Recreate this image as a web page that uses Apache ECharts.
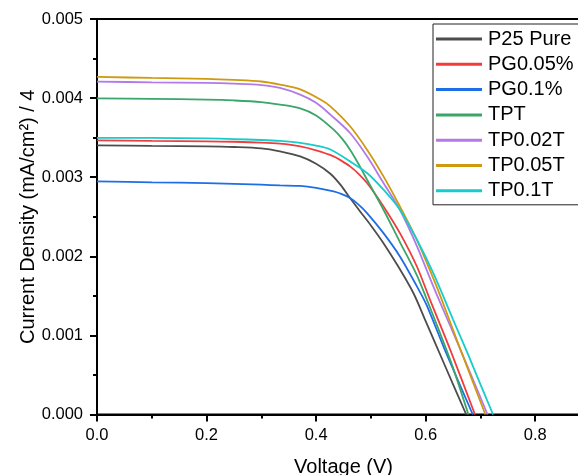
<!DOCTYPE html>
<html>
<head>
<meta charset="utf-8">
<script src="https://cdn.jsdelivr.net/npm/echarts@6/dist/echarts.min.js"></script>
<style>
html,body{margin:0;padding:0;background:#fff;}
#chart{width:578px;height:475px;}
</style>
</head>
<body>
<div id="chart"></div>
<script>
const seriesNames = ['P25 Pure', 'PG0.05%', 'PG0.1%', 'TPT', 'TP0.02T', 'TP0.05T', 'TP0.1T'];
const seriesColors = ['#4d4d4d', '#f23c3c', '#1e6ee6', '#3aa66a', '#b27ae8', '#cf9a10', '#17cccc'];

const v_P25 = [0, 0.1, 0.2, 0.25, 0.3, 0.334, 0.371, 0.4, 0.426, 0.445, 0.462, 0.48, 0.5, 0.523, 0.55, 0.578, 0.6, 0.617, 0.65, 0.674];
const j_P25 = [0.003403, 0.003396, 0.003390, 0.003382, 0.003365, 0.003327, 0.003263, 0.003170, 0.003044, 0.002900, 0.002736, 0.002570, 0.002390, 0.002166, 0.001870, 0.001530, 0.001180, 0.000910, 0.000380, 0];

const v_PG005 = [0, 0.1, 0.2, 0.25, 0.3, 0.334, 0.371, 0.4, 0.432, 0.447, 0.462, 0.478, 0.493, 0.508, 0.523, 0.553, 0.584, 0.608, 0.645, 0.690];
const j_PG005 = [0.003466, 0.003458, 0.003453, 0.003448, 0.003438, 0.003424, 0.003390, 0.003340, 0.003264, 0.003205, 0.003137, 0.003040, 0.002926, 0.002785, 0.002631, 0.002293, 0.001871, 0.001449, 0.000816, 0];

const v_PG01 = [0, 0.1, 0.2, 0.3, 0.334, 0.371, 0.4, 0.432, 0.447, 0.462, 0.478, 0.493, 0.523, 0.553, 0.584, 0.602, 0.636, 0.686];
const j_PG01 = [0.002947, 0.002935, 0.002926, 0.002905, 0.002896, 0.002890, 0.002865, 0.002820, 0.002785, 0.002736, 0.002650, 0.002546, 0.002293, 0.001998, 0.001620, 0.001380, 0.000800, 0];

const v_TPT = [0, 0.1, 0.2, 0.25, 0.3, 0.334, 0.371, 0.4, 0.432, 0.447, 0.462, 0.478, 0.493, 0.523, 0.553, 0.584, 0.6, 0.625, 0.65, 0.678];
const j_TPT = [0.003997, 0.003990, 0.003981, 0.003970, 0.003950, 0.003918, 0.003870, 0.003780, 0.003601, 0.003490, 0.003348, 0.003160, 0.002968, 0.002589, 0.002180, 0.001760, 0.001490, 0.001050, 0.000590, 0];

const v_TP002 = [0, 0.1, 0.2, 0.25, 0.3, 0.334, 0.371, 0.4, 0.426, 0.462, 0.493, 0.523, 0.553, 0.584, 0.608, 0.623, 0.666, 0.713];
const j_TP002 = [0.004209, 0.004200, 0.004192, 0.004182, 0.004165, 0.004129, 0.004044, 0.003940, 0.003791, 0.003559, 0.003264, 0.002926, 0.002589, 0.002130, 0.001720, 0.001470, 0.000780, 0];

const v_TP005 = [0, 0.1, 0.2, 0.25, 0.3, 0.334, 0.371, 0.407, 0.426, 0.462, 0.493, 0.523, 0.553, 0.584, 0.614, 0.630, 0.663, 0.709];
const j_TP005 = [0.004268, 0.004255, 0.004243, 0.004230, 0.004210, 0.004171, 0.004110, 0.003985, 0.003896, 0.003644, 0.003348, 0.003011, 0.002631, 0.002209, 0.001720, 0.001440, 0.000830, 0];

const v_TP01 = [0, 0.1, 0.2, 0.25, 0.3, 0.334, 0.371, 0.4, 0.426, 0.462, 0.493, 0.523, 0.553, 0.584, 0.614, 0.65, 0.678, 0.70, 0.723];
const j_TP01 = [0.003496, 0.003496, 0.003490, 0.003482, 0.003470, 0.003458, 0.003435, 0.003400, 0.003350, 0.003200, 0.003053, 0.002842, 0.002589, 0.002209, 0.001787, 0.001200, 0.000750, 0.000380, 0];

const xTicks = { min: 0, max: 0.9, interval: 0.2 };
const yTicks = { min: 0, max: 0.005, interval: 0.001 };

const allV = [v_P25, v_PG005, v_PG01, v_TPT, v_TP002, v_TP005, v_TP01];
const allJ = [j_P25, j_PG005, j_PG01, j_TPT, j_TP002, j_TP005, j_TP01];

const FONT = '"Liberation Sans", Arial, sans-serif';

const series = seriesNames.map((name, i) => ({
  name: name,
  type: 'line',
  data: allV[i].map((v, k) => [v, allJ[i][k]]),
  showSymbol: false,
  symbol: 'none',
  smooth: 0.3,
  lineStyle: { width: 1.8, color: seriesColors[i] },
  itemStyle: { color: seriesColors[i] },
  animation: false
}));

const chart = echarts.init(document.getElementById('chart'), null, { renderer: 'canvas' });
chart.setOption({
  animation: false,
  backgroundColor: '#fff',
  grid: {
    left: 97, top: 19, width: 493, height: 395.5,
    outerBoundsMode: 'none',
    containLabel: false,
    show: true, borderColor: '#000', borderWidth: 2, backgroundColor: 'transparent'
  },
  legend: {
    orient: 'vertical',
    left: 433, top: 24,
    padding: [5, 60, 4, 3],
    itemWidth: 46, itemHeight: 3, itemGap: 5.3,
    icon: 'rect',
    borderColor: '#222', borderWidth: 1,
    selectedMode: false,
    textStyle: { fontFamily: FONT, fontSize: 20, color: '#000', lineHeight: 20, padding: [0, 0, 0, 1] },
    data: seriesNames
  },
  xAxis: {
    type: 'value',
    min: xTicks.min, max: xTicks.max, interval: xTicks.interval,
    name: 'Voltage (V)',
    nameLocation: 'middle', nameGap: 43,
    nameMoveOverlap: false,
    nameTextStyle: { fontFamily: FONT, fontSize: 20, color: '#000' },
    axisLine: { show: true, onZero: false, lineStyle: { color: '#000', width: 2 } },
    axisTick: { show: true, inside: false, length: 7, lineStyle: { color: '#000', width: 2 } },
    minorTick: { show: true, splitNumber: 2, length: 4, lineStyle: { color: '#000', width: 2 } },
    splitLine: { show: false },
    minorSplitLine: { show: false },
    axisLabel: {
      fontFamily: FONT, fontSize: 16.5, color: '#000', margin: 12,
      showMaxLabel: false,
      formatter: v => v.toFixed(1)
    }
  },
  yAxis: {
    type: 'value',
    min: yTicks.min, max: yTicks.max, interval: yTicks.interval,
    name: 'Current Density (mA/cm²) / 4',
    nameLocation: 'middle', nameGap: 59,
    nameMoveOverlap: false,
    nameTextStyle: { fontFamily: FONT, fontSize: 20, color: '#000' },
    axisLine: { show: true, onZero: false, lineStyle: { color: '#000', width: 2 } },
    axisTick: { show: true, inside: false, length: 7, lineStyle: { color: '#000', width: 2 } },
    minorTick: { show: true, splitNumber: 2, length: 4, lineStyle: { color: '#000', width: 2 } },
    splitLine: { show: false },
    minorSplitLine: { show: false },
    axisLabel: {
      fontFamily: FONT, fontSize: 16.5, color: '#000', margin: 14,
      formatter: v => v.toFixed(3)
    }
  },
  series: series
});
</script>
</body>
</html>
